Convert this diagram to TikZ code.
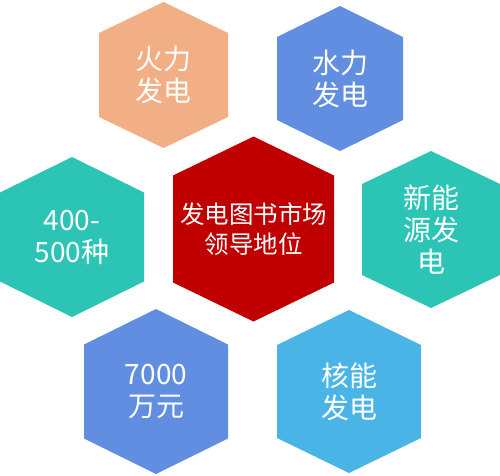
\documentclass[tikz,border=0pt]{standalone}
\usepackage{fontspec}
\setmainfont{Noto Sans CJK SC}

\definecolor{hexorange}{HTML}{F2AE84}
\definecolor{hexblue}{HTML}{618EE1}
\definecolor{hexteal}{HTML}{2CC4B4}
\definecolor{hexred}{HTML}{C00000}
\definecolor{hexsky}{HTML}{4BB4E6}

\tikzset{
  hextext/.style={text=white, align=center, font=\fontsize{28}{32}\selectfont},
  hexcore/.style={hextext, font=\fontsize{24.5}{30}\selectfont}
}

% #2 name, #3/#4 centre, #5 half width, #6 half height, #7 corner offset, #8 colour, #9 text
\newcommand{\hexcell}[9][hextext]{%
  \fill[#8] ({#3},{#4-#6}) -- ({#3+#5},{#4-#7}) -- ({#3+#5},{#4+#7})
    -- ({#3},{#4+#6}) -- ({#3-#5},{#4+#7}) -- ({#3-#5},{#4-#7}) -- cycle;
  \node[#1] (#2) at (#3,#4) {#9};}

\begin{document}
\begin{tikzpicture}[x=1pt, y=-1pt]
    \useasboundingbox (0,0) rectangle (500,475);

    % outer ring
    \hexcell{fire}{163.5}{75}{64.5}{73}{42}{hexorange}{火力\\发电}
    \hexcell{hydro}{340}{78.5}{63}{72.5}{41.5}{hexblue}{水力\\发电}
    \hexcell{kinds}{72}{237}{72}{80}{44.5}{hexteal}{400-\\500种}
    \hexcell{newpower}{431}{229.5}{69}{78.5}{45.5}{hexteal}{新能\\源发\\电}
    \hexcell{money}{156}{391.5}{72}{82.5}{47}{hexblue}{7000\\万元}
    \hexcell{nuclear}{349}{391.5}{72}{81.5}{46.5}{hexsky}{核能\\发电}

    % centre
    \hexcell[hexcore]{lead}{253.5}{229}{80.5}{92.5}{53.5}{hexred}{发电图书市场\\领导地位}
\end{tikzpicture}
\end{document}
